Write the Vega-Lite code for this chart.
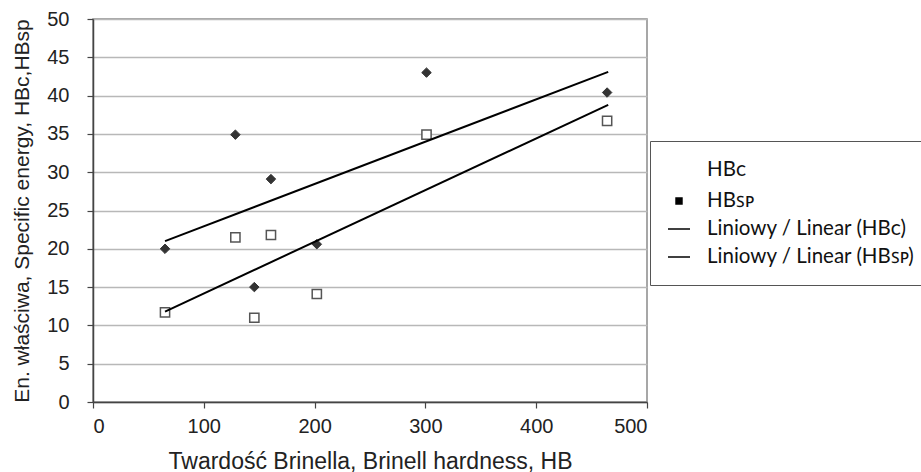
{
  "$schema": "https://vega.github.io/schema/vega-lite/v6.json",
  "width": 554,
  "height": 383,
  "autosize": {"type": "none"},
  "padding": {"left": 93, "top": 19, "right": 274, "bottom": 70},
  "background": "white",
  "config": {
    "view": {"stroke": "#8a8a8a", "strokeWidth": 1.5},
    "font": "Liberation Sans",
    "axis": {
      "domainColor": "#444", "domainWidth": 1.5, "tickColor": "#444", "tickWidth": 1.2, "tickSize": 6,
      "labelFont": "Liberation Sans", "labelFontSize": 20, "labelColor": "#222",
      "titleFont": "Liberation Sans", "titleFontWeight": "normal", "titleColor": "#222"
    }
  },
  "datasets": {
    "points": [
      {"HB": 65, "value": 20.0, "series": "HBᴄ"},
      {"HB": 128.5, "value": 34.9, "series": "HBᴄ"},
      {"HB": 145.6, "value": 15.0, "series": "HBᴄ"},
      {"HB": 160.6, "value": 29.1, "series": "HBᴄ"},
      {"HB": 202, "value": 20.6, "series": "HBᴄ"},
      {"HB": 301, "value": 43.0, "series": "HBᴄ"},
      {"HB": 464, "value": 40.4, "series": "HBᴄ"},
      {"HB": 65, "value": 11.7, "series": "HBꜱᴘ"},
      {"HB": 128.5, "value": 21.5, "series": "HBꜱᴘ"},
      {"HB": 145.6, "value": 11.0, "series": "HBꜱᴘ"},
      {"HB": 160.6, "value": 21.8, "series": "HBꜱᴘ"},
      {"HB": 202, "value": 14.1, "series": "HBꜱᴘ"},
      {"HB": 301, "value": 34.9, "series": "HBꜱᴘ"},
      {"HB": 464, "value": 36.7, "series": "HBꜱᴘ"}
    ],
    "lines": [
      {"HB": 65, "value": 21.0, "series": "Liniowy / Linear (HBᴄ)"},
      {"HB": 465, "value": 43.1, "series": "Liniowy / Linear (HBᴄ)"},
      {"HB": 65, "value": 11.8, "series": "Liniowy / Linear (HBꜱᴘ)"},
      {"HB": 465, "value": 38.8, "series": "Liniowy / Linear (HBꜱᴘ)"}
    ],
    "legendEntries": [
      {"series": "HBᴄ"},
      {"series": "HBꜱᴘ"},
      {"series": "Liniowy / Linear (HBᴄ)"},
      {"series": "Liniowy / Linear (HBꜱᴘ)"}
    ]
  },
  "encoding": {
    "x": {
      "field": "HB", "type": "quantitative",
      "scale": {"domain": [0, 500], "nice": false, "zero": false},
      "axis": {"values": [0, 100, 200, 300, 400, 500], "grid": false, "labelPadding": 8, "titlePadding": 14,
               "titleFontSize": 23,
               "title": "Twardość Brinella, Brinell hardness, HB"}
    },
    "y": {
      "field": "value", "type": "quantitative",
      "scale": {"domain": [0, 50], "nice": false},
      "axis": {"values": [0, 5, 10, 15, 20, 25, 30, 35, 40, 45, 50], "grid": true, "gridColor": "#b8b8b8", "gridWidth": 1.5,
               "labelPadding": 18, "titlePadding": 14, "titleFontSize": 21,
               "title": "En. właściwa, Specific energy, HBc,HBsp"}
    }
  },
  "layer": [
    {
      "data": {"name": "points"},
      "transform": [{"filter": "datum.series == 'HBᴄ'"}],
      "mark": {"type": "point", "shape": "diamond", "filled": true, "opacity": 1, "fill": "#333", "stroke": "#333", "strokeWidth": 1, "size": 90}
    },
    {
      "data": {"name": "points"},
      "transform": [{"filter": "datum.series == 'HBꜱᴘ'"}],
      "mark": {"type": "point", "shape": "square", "filled": false, "opacity": 1, "fill": "white", "stroke": "#555", "strokeWidth": 1.5, "size": 85}
    },
    {
      "data": {"name": "lines"},
      "mark": {"type": "line", "color": "black", "strokeWidth": 2},
      "encoding": {
        "detail": {"field": "series", "type": "nominal"}
      }
    },
    {
      "data": {"name": "legendEntries"},
      "mark": {"type": "point", "opacity": 1, "strokeWidth": 1.5, "size": 484},
      "encoding": {
        "shape": {
          "field": "series", "type": "nominal",
          "scale": {"domain": ["HBᴄ", "HBꜱᴘ", "Liniowy / Linear (HBᴄ)", "Liniowy / Linear (HBꜱᴘ)"],
                    "range": ["square", "M-0.27,-0.27H0.27V0.27H-0.27Z", "stroke", "stroke"]},
          "legend": {
            "orient": "none", "legendX": 557, "legendY": 122,
            "title": null,
            "padding": 17,
            "strokeColor": "#555",
            "fillColor": "white",
            "labelFont": "Lato", "labelFontSize": 20.5, "labelColor": "#111", "labelLimit": 400,
            "labelExpr": "datum.label + '\u00a0\u00a0\u00a0\u00a0\u00a0\u00a0'",
            "symbolSize": 484,
            "symbolStrokeWidth": 1.5,
            "rowPadding": 5, "labelOffset": 16
          }
        },
        "stroke": {
          "field": "series", "type": "nominal",
          "scale": {"domain": ["HBᴄ", "HBꜱᴘ", "Liniowy / Linear (HBᴄ)", "Liniowy / Linear (HBꜱᴘ)"],
                    "range": ["transparent", "black", "black", "black"]}
        },
        "fill": {
          "field": "series", "type": "nominal",
          "scale": {"domain": ["HBᴄ", "HBꜱᴘ", "Liniowy / Linear (HBᴄ)", "Liniowy / Linear (HBꜱᴘ)"],
                    "range": ["transparent", "black", "transparent", "transparent"]}
        }
      }
    }
  ]
}
